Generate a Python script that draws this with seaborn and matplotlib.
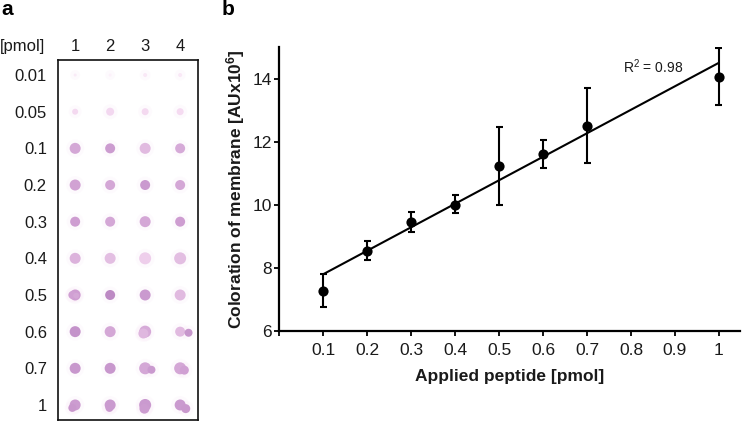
import pandas as pd
import seaborn as sns
import matplotlib.pyplot as plt
from matplotlib.colors import LinearSegmentedColormap

sns.set_style('white')
plt.rcParams['font.family'] = ['Liberation Sans', 'DejaVu Sans']
plt.rcParams['mathtext.fontset'] = 'custom'
plt.rcParams['mathtext.rm'] = 'Liberation Sans'
plt.rcParams['mathtext.bf'] = 'Liberation Sans:bold'

# panel a, dot blot
row_labels = ['0.01', '0.05', '0.1', '0.2', '0.3', '0.4', '0.5', '0.6', '0.7', '1']
col_labels = ['1', '2', '3', '4']
# how dark each spot looks (0-1), one row per amount
spot_dark = [
    [0.12, 0.05, 0.15, 0.15],
    [0.30, 0.32, 0.30, 0.28],
    [0.62, 0.70, 0.50, 0.60],
    [0.65, 0.62, 0.72, 0.62],
    [0.68, 0.62, 0.62, 0.68],
    [0.55, 0.48, 0.38, 0.48],
    [0.68, 0.88, 0.72, 0.50],
    [0.80, 0.62, 0.60, 0.50],
    [0.75, 0.75, 0.62, 0.62],
    [0.70, 0.72, 0.72, 0.72],
]
# spot diameter in px
spot_diam = [
    [3, 3, 4, 4],
    [6, 8, 7, 7],
    [11, 10, 11, 10],
    [11, 10, 10, 10],
    [10, 10, 11, 10],
    [11, 11, 12, 12],
    [11, 10, 11, 11],
    [11, 11, 12, 10],
    [11, 11, 12, 12],
    [11, 11, 12, 11],
]
# spots that ran into a second lobe: column, row, dark, diameter
lobe_col = [0.92, 2.98, 3.18, 4.24, 4.12, 0.92, 1.98, 2.95, 4.16, 1.03]
lobe_row = [9.08, 9.1, 8.04, 7.03, 8.05, 6.0, 9.08, 7.05, 9.1, 6.02]
lobe_dark = [0.74, 0.70, 0.72, 0.76, 0.66, 0.66, 0.72, 0.52, 0.74, 0.62]
lobe_diam = [8, 10, 8, 8, 9, 8, 8, 10, 9, 6]

# panel b
peptide = [0.1, 0.2, 0.3, 0.4, 0.5, 0.6, 0.7, 1.0]
coloration = [7.28, 8.55, 9.47, 10.0, 11.22, 11.6, 12.5, 14.06]
err_low = [6.77, 8.25, 9.15, 9.73, 10.0, 11.15, 11.32, 13.15]
err_high = [7.81, 8.86, 9.78, 10.3, 12.45, 12.05, 13.7, 14.97]
fit_x = [0.1, 1.0]
fit_y = [7.8, 14.5]
x_ticks = [0, 0.1, 0.2, 0.3, 0.4, 0.5, 0.6, 0.7, 0.8, 0.9, 1.0]
x_ticklabels = ['', '0.1', '0.2', '0.3', '0.4', '0.5', '0.6', '0.7', '0.8', '0.9', '1']
y_ticks = [6, 8, 10, 12, 14]

W, H = 742, 422
fig = plt.figure(figsize=(W / 100, H / 100), dpi=100)
txt = '#1a1a1a'


def px_axes(left, top, right, bottom):
    return fig.add_axes([left / W, 1 - bottom / H, (right - left) / W, (bottom - top) / H])


# dot blot
ax = px_axes(58, 60, 198, 420)
rows = []
for r in range(len(row_labels)):
    for c in range(len(col_labels)):
        rows.append({'col': c + 1, 'row': r, 'dark': spot_dark[r][c], 'diam': spot_diam[r][c]})
for c, r, d, s in zip(lobe_col, lobe_row, lobe_dark, lobe_diam):
    rows.append({'col': c, 'row': r, 'dark': d, 'diam': s})
spots = pd.DataFrame(rows)
spots['area'] = (spots['diam'] * 0.72) ** 2
spots['halo'] = (spots['diam'] * 0.72 + 5) ** 2

cmap = LinearSegmentedColormap.from_list('stain', ['#fdf6fc', '#f3d6ef', '#cf9fd2', '#b37fbd'])
sns.scatterplot(data=spots, x='col', y='row', color='#f3cdee', size='halo', size_norm=(0, 300),
                sizes=(0, 300), alpha=0.09, linewidth=0, legend=False, ax=ax)
sns.scatterplot(data=spots, x='col', y='row', hue='dark', hue_norm=(0, 1), palette=cmap,
                size='area', size_norm=(0, 300), sizes=(0, 300), linewidth=0, legend=False, ax=ax)
ax.set_xlim(0.51, 4.51)
ax.set_ylim(9.41, -0.41)
ax.set_xticks(range(1, 5))
ax.set_xticklabels(col_labels)
ax.set_yticks(range(len(row_labels)))
ax.set_yticklabels(row_labels)
ax.xaxis.tick_top()
ax.tick_params(length=0, labelsize=12, labelcolor=txt, pad=4)
ax.tick_params(axis='y', pad=8)
ax.set_xlabel('')
ax.set_ylabel('')
for sp in ax.spines.values():
    sp.set_visible(True)
    sp.set_linewidth(1.2)
    sp.set_color('#111111')
fig.text(0 / W, 1 - 51 / H, '[pmol]', fontsize=12, color=txt, va='baseline')
fig.text(1 / W, 1 - 15 / H, 'a', fontsize=15, fontweight='bold', color='black', va='baseline')

# calibration plot
ax2 = px_axes(279.3, 47, 740, 331)
df = pd.DataFrame({'peptide': peptide, 'coloration': coloration, 'low': err_low, 'high': err_high})
fit = pd.DataFrame({'x': fit_x, 'y': fit_y})
sns.lineplot(data=fit, x='x', y='y', color='black', linewidth=1.5, ax=ax2)
ax2.vlines(df['peptide'], df['low'], df['high'], color='black', linewidth=1.5)
ax2.hlines(df['low'], df['peptide'] - 0.008, df['peptide'] + 0.008, color='black', linewidth=1.5)
ax2.hlines(df['high'], df['peptide'] - 0.008, df['peptide'] + 0.008, color='black', linewidth=1.5)
sns.scatterplot(data=df, x='peptide', y='coloration', color='black', s=54, linewidth=0, zorder=5, ax=ax2)
ax2.set_xlim(0, 1.048)
ax2.set_ylim(6, 15)
ax2.set_xticks(x_ticks)
ax2.set_xticklabels(x_ticklabels)
ax2.set_yticks(y_ticks)
ax2.tick_params(axis='both', bottom=True, left=True, length=3.5, width=1.3, color='black',
                labelsize=12.5, labelcolor=txt)
ax2.tick_params(axis='x', pad=5)
ax2.tick_params(axis='y', pad=2)
ax2.set_xlabel('Applied peptide [pmol]', fontsize=12.5, fontweight='bold', color=txt, labelpad=8)
ax2.set_ylabel(r'Coloration of membrane [AUx10$\mathbf{^6}$]', fontsize=12.5, fontweight='bold',
               color=txt, labelpad=4)
ax2.text(0.782, 14.38, r'R$^2$ = 0.98', fontsize=10, color=txt, va='center')
sns.despine(ax=ax2)
for name in ['left', 'bottom']:
    ax2.spines[name].set_linewidth(1.6)
    ax2.spines[name].set_color('black')
fig.text(222 / W, 1 - 15 / H, 'b', fontsize=15, fontweight='bold', color='black', va='baseline')

fig.savefig('out.png', dpi=100)
